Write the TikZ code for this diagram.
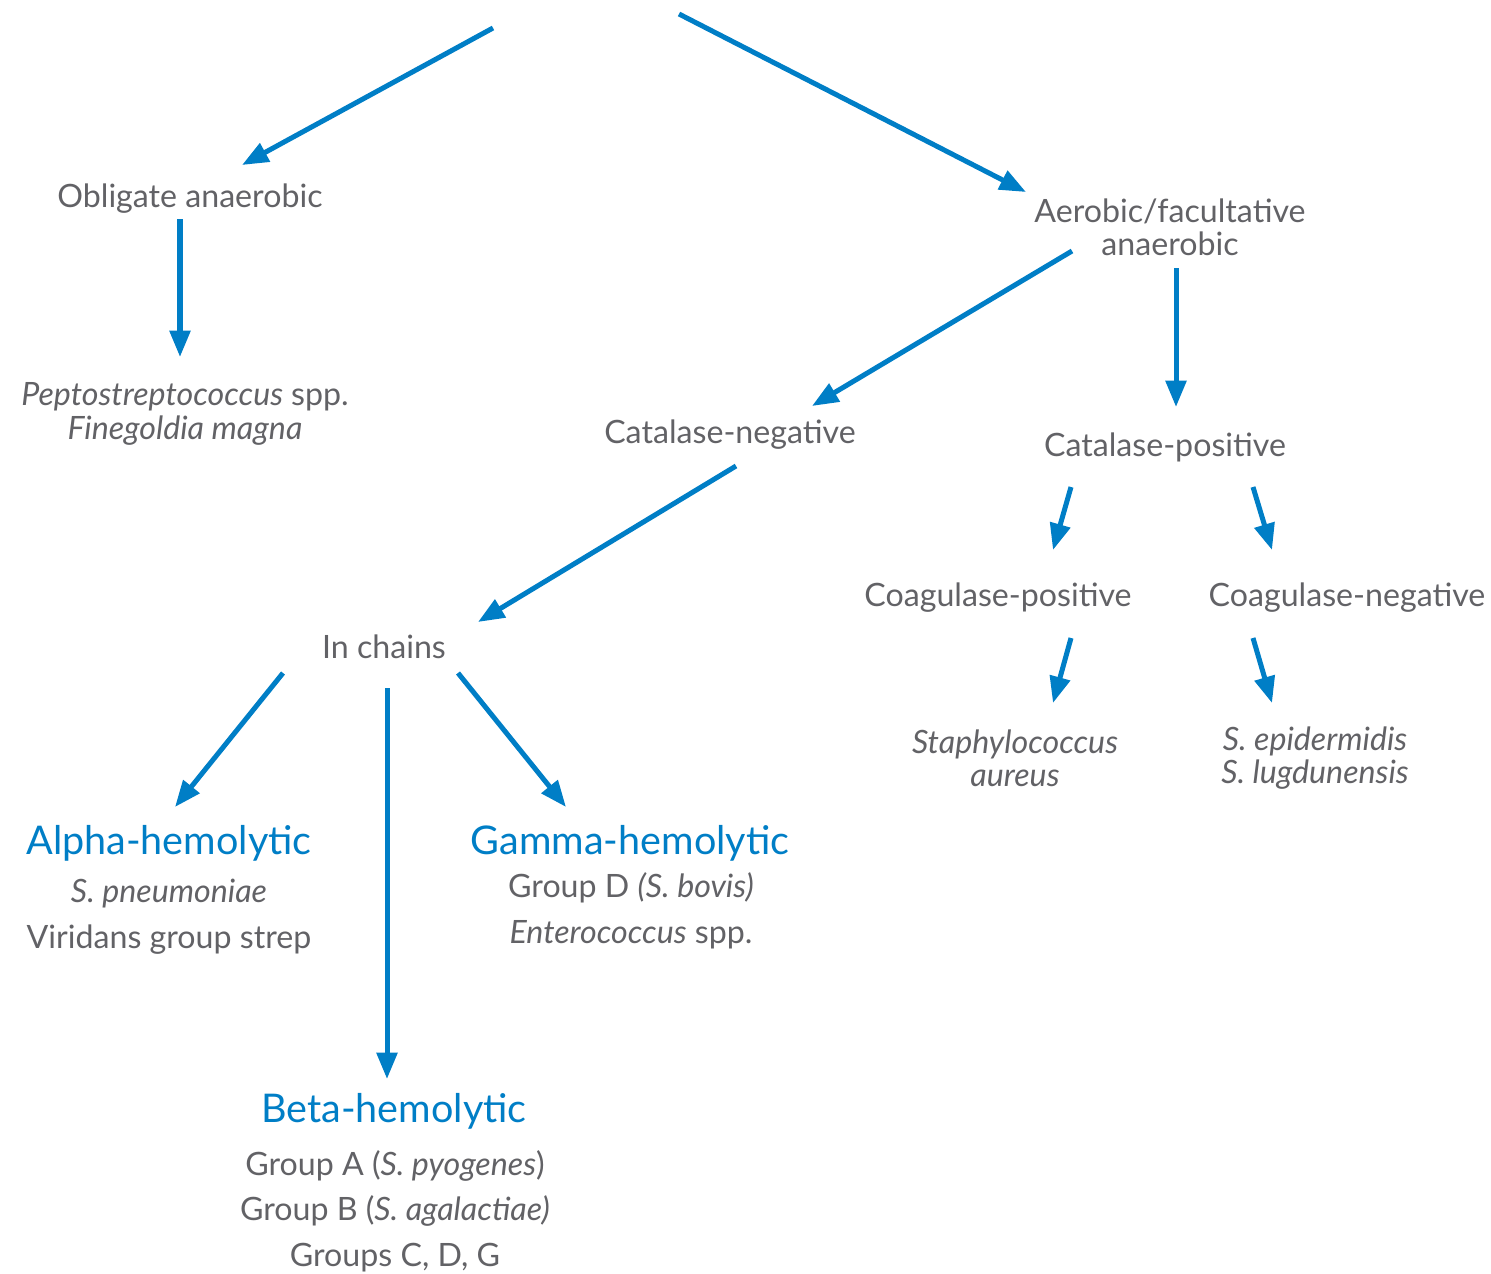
\documentclass[tikz,border=0pt]{standalone}
\usepackage{fontspec}
\setmainfont{Lato}
\usetikzlibrary{arrows.meta}
\definecolor{txt}{RGB}{98,98,102}
\definecolor{blu}{RGB}{0,126,198}
\tikzset{
  lbl/.style={text=txt, font=\fontsize{18.3}{19}\selectfont, align=center, inner sep=0pt},
  list/.style={font=\fontsize{18.3}{26}\selectfont},
  hemo/.style={text=blu, font=\fontsize{22.5}{26}\selectfont, inner sep=0pt},
  arr/.style={draw=blu, line width=2.85pt, -{Triangle[length=15pt,width=11.5pt]}},
}
\newcommand{\drawarrow}{\draw[arr]}

\begin{document}
\begin{tikzpicture}[x=0.02cm,y=-0.02cm]
\useasboundingbox (0,0) rectangle (1491,1274);
\coordinate (rootL) at (493,28);
\coordinate (rootR) at (679,14);
\node[lbl] (obl) at (190,199) {Obligate anaerobic};
\node[lbl] (aer) at (1170,227) {Aerobic/facultative\\anaerobic};
\node[lbl] (pep) at (185,414) {\textit{Peptostreptococcus} spp.\\\textit{Finegoldia magna}};
\node[lbl] (catneg) at (730,435) {Catalase-negative};
\node[lbl] (catpos) at (1165,447) {Catalase-positive};
\node[lbl] (coagpos) at (998,598) {Coagulase-positive};
\node[lbl] (coagneg) at (1347,598) {Coagulase-negative};
\node[lbl] (saur) at (1015,758) {\textit{Staphylococcus}\\\textit{aureus}};
\node[lbl] (sepi) at (1315,758) {\textit{S. epidermidis}\\\textit{S. lugdunensis}};
\node[lbl] (chains) at (384,647) {In chains};
\node[hemo] (alpha) at (169,843) {Alpha-hemolytic};
\node[lbl,list] (alphalist) at (169,917) {\textit{S. pneumoniae}\\Viridans group strep};
\node[hemo] (gamma) at (630,843) {Gamma-hemolytic};
\node[lbl,list] (gammalist) at (631,911) {Group D \textit{(S. bovis)}\\\textit{Enterococcus} spp.};
\node[hemo] (beta) at (394,1111) {Beta-hemolytic};
\node[lbl,list] (betalist) at (395,1211) {Group A (\textit{S. pyogenes})\\Group B (\textit{S. agalactiae)}\\Groups C, D, G};
\drawarrow (rootL) -- ([shift={(52,-34)}]obl.center);
\drawarrow (rootR) -- ([shift={(-144,-35)}]aer.center);
\drawarrow ([shift={(-10,20)}]obl.center) -- ([shift={(-5,-57)}]pep.center);
\drawarrow ([shift={(-98,24)}]aer.center) -- ([shift={(82,-29)}]catneg.center);
\drawarrow ([shift={(6,41)}]aer.center) -- ([shift={(11,-40)}]catpos.center);
\drawarrow ([shift={(6,31)}]catneg.center) -- ([shift={(94,-25)}]chains.center);
\drawarrow ([shift={(-94,40)}]catpos.center) -- ([shift={(55,-48)}]coagpos.center);
\drawarrow ([shift={(88,40)}]catpos.center) -- ([shift={(-75,-48)}]coagneg.center);
\drawarrow ([shift={(73,40)}]coagpos.center) -- ([shift={(38,-55)}]saur.center);
\drawarrow ([shift={(-94,40)}]coagneg.center) -- ([shift={(-43,-55)}]sepi.center);
\drawarrow ([shift={(-101,26)}]chains.center) -- ([shift={(6,-36)}]alpha.center);
\drawarrow ([shift={(3,41)}]chains.center) -- ([shift={(-7,-32)}]beta.center);
\drawarrow ([shift={(74,26)}]chains.center) -- ([shift={(-64,-36)}]gamma.center);
\end{tikzpicture}
\end{document}
